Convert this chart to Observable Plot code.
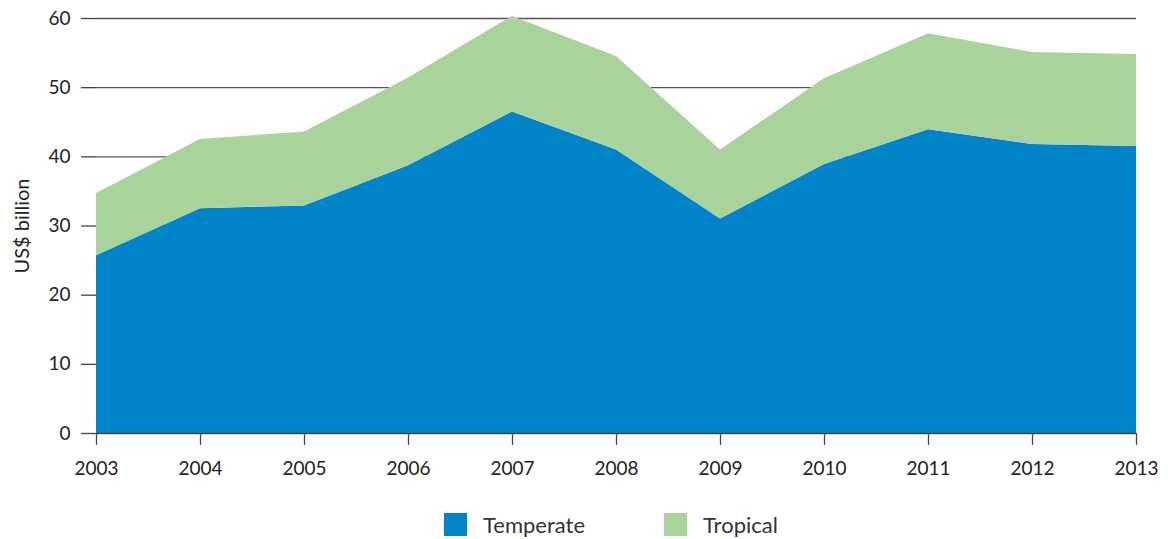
<!DOCTYPE html>
<html>
<head>
<meta charset="utf-8">
<script src="https://cdn.jsdelivr.net/npm/d3@7"></script>
<script src="https://cdn.jsdelivr.net/npm/@observablehq/plot@0.6"></script>
<style>
  body { margin: 0; background: #fff; font-family: Lato, "Open Sans", sans-serif; }
  #chart svg { display: block; }
  .legend { display: flex; justify-content: flex-start; align-items: center; height: 49px; padding-left: 444px; padding-top: 20px; box-sizing: border-box; font-size: 22px; color: #333; }
  .legend .item { display: flex; align-items: center; }
  .legend .sw { width: 23px; height: 23px; display: inline-block; margin-right: 16px; }
</style>
</head>
<body>
<div id="chart"></div>
<div class="legend" id="legend"></div>
<script>
const years = [2003, 2004, 2005, 2006, 2007, 2008, 2009, 2010, 2011, 2012, 2013];
const temperate = [25.7, 32.5, 32.9, 38.7, 46.5, 41.0, 31.0, 38.9, 43.9, 41.8, 41.5];
const tropical =  [ 9.0, 10.0, 10.7, 12.7, 13.8, 13.5, 10.0, 12.4, 13.9, 13.3, 13.3];
const seriesNames = ["Temperate", "Tropical"];
const seriesColors = ["#0084c7", "#aad39c"];
const yTicks = [0, 10, 20, 30, 40, 50, 60];

const data = [];
years.forEach((yr, i) => {
  data.push({year: yr, series: "Temperate", value: temperate[i]});
  data.push({year: yr, series: "Tropical", value: tropical[i]});
});

const chart = Plot.plot({
  width: 1168,
  height: 490,
  marginTop: 18,
  marginBottom: 57,
  marginLeft: 96,
  marginRight: 32,
  style: {fontFamily: "Lato, 'Open Sans', sans-serif", fontSize: "19px", color: "#222"},
  x: {domain: [2003, 2013], label: null},
  y: {domain: [0, 60], label: null},
  color: {domain: seriesNames, range: seriesColors},
  marks: [
    Plot.ruleY(yTicks.filter(d => d > 0), {stroke: "#555", strokeWidth: 1.3, strokeOpacity: 1}),
    Plot.areaY(data, {x: "year", y: "value", fill: "series", order: seriesNames}),
    Plot.ruleY([0], {stroke: "#444", strokeWidth: 1.3}),
    Plot.axisX({ticks: years, tickFormat: d => String(d), tickSize: 12, tickPadding: 16, stroke: "#444", strokeWidth: 1.3, fontSize: 19, label: null}),
    Plot.axisY({ticks: yTicks, tickSize: 15, tickPadding: 11, stroke: "#444", strokeWidth: 1.3, fontSize: 19, label: null}),
    Plot.axisY({ticks: [], tickSize: 0, fontSize: 20, label: "US$ billion", labelAnchor: "center", labelArrow: "none", labelOffset: 82})
  ]
});
document.getElementById("chart").appendChild(chart);

const legend = document.getElementById("legend");
seriesNames.forEach((name, i) => {
  const item = document.createElement("div");
  item.className = "item";
  item.style.marginRight = i === 0 ? "79px" : "0";
  item.innerHTML = `<span class="sw" style="background:${seriesColors[i]}"></span><span>${name}</span>`;
  legend.appendChild(item);
});
</script>
</body>
</html>
